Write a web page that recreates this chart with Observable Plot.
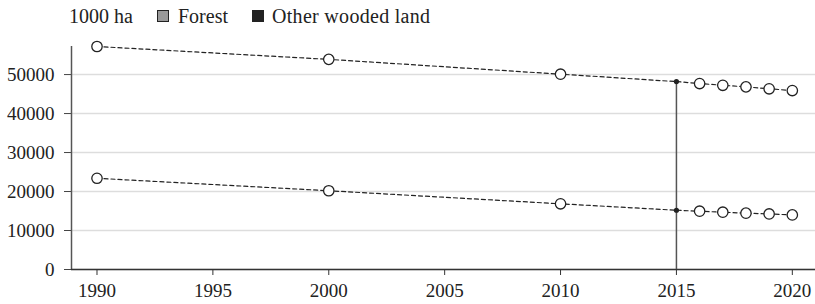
<!DOCTYPE html>
<html><head><meta charset="utf-8">
<script src="https://cdn.jsdelivr.net/npm/d3@7"></script>
<script src="https://cdn.jsdelivr.net/npm/@observablehq/plot@0.6"></script>
<style>
body{margin:0;background:#fff;font-family:"Liberation Serif","DejaVu Serif",serif;color:#222;width:815px;height:304px;overflow:hidden}
#legend{position:relative;height:30px;font-size:20px;line-height:1}
#legend span{position:absolute;top:6px;white-space:nowrap}
#legend i{position:absolute;top:10px;width:12px;height:12px;box-sizing:border-box;border:1px solid #222}
</style></head><body>
<div id="legend"></div>
<div id="chart"></div>
<script>
const unitLabel = "1000 ha";
const seriesNames = ["Forest", "Other wooded land"];
const seriesColors = ["#999999", "#222222"];
const years = [1990, 2000, 2010, 2015, 2016, 2017, 2018, 2019, 2020];
const upperValues = [57200, 53900, 50100, 48200, 47700, 47250, 46850, 46350, 45900];
const lowerValues = [23400, 20200, 16850, 15200, 14950, 14700, 14450, 14250, 14000];
const xTicks = [1990, 1995, 2000, 2005, 2010, 2015, 2020];
const yTicks = [0, 10000, 20000, 30000, 40000, 50000];
const refYear = 2015;
const xDomain = [1988.9, 2021];
const yDomain = [0, 57200];

// legend
const legend = document.getElementById("legend");
legend.innerHTML =
  `<span style="left:69px">${unitLabel}</span>` +
  `<i style="left:157px;background:${seriesColors[0]}"></i><span style="left:178px">${seriesNames[0]}</span>` +
  `<i style="left:252px;background:${seriesColors[1]}"></i><span style="left:272px;letter-spacing:0.3px">${seriesNames[1]}</span>`;

const rows = [];
years.forEach((y, i) => {
  rows.push({year: y, value: upperValues[i], series: seriesNames[0]});
  rows.push({year: y, value: lowerValues[i], series: seriesNames[1]});
});
const refTop = upperValues[years.indexOf(refYear)];

const chart = Plot.plot({
  width: 815,
  height: 274,
  marginTop: 16,
  marginBottom: 35,
  marginLeft: 71,
  marginRight: 0,
  style: {fontFamily: "'Liberation Serif', 'DejaVu Serif', serif", fontSize: "19px", color: "#222", background: "white", overflow: "visible"},
  x: {domain: xDomain, label: null},
  y: {domain: yDomain, label: null},
  marks: [
    Plot.gridY(yTicks, {stroke: "#dddddd", strokeOpacity: 1, strokeWidth: 1.5}),
    Plot.axisY(yTicks, {label: null, tickFormat: d3.format("d"), tickSize: 7, tickPadding: 10, stroke: "#444", fill: "#222", fontSize: 19}),
    Plot.axisX(xTicks, {label: null, tickFormat: d3.format("d"), tickSize: 6, tickPadding: 8, stroke: "#333", fill: "#222", fontSize: 19}),
    Plot.ruleX([xDomain[0]], {y1: yDomain[0], y2: yDomain[1], stroke: "#555", strokeWidth: 1.5}),
    Plot.ruleY([0], {stroke: "#333", strokeWidth: 1.5}),
    Plot.ruleX([refYear], {y1: 0, y2: refTop, stroke: "#555", strokeWidth: 1.5}),
    Plot.line(rows, {x: "year", y: "value", z: "series", stroke: "#222", strokeWidth: 1.2, strokeDasharray: "4,3"}),
    Plot.dot(rows.filter(d => d.year !== refYear), {x: "year", y: "value", r: 5.2, fill: "white", stroke: "#222", strokeWidth: 1.3}),
    Plot.dot(rows.filter(d => d.year === refYear), {x: "year", y: "value", r: 2.6, fill: "#222", stroke: "none"})
  ]
});
document.getElementById("chart").appendChild(chart);
</script>
</body></html>
